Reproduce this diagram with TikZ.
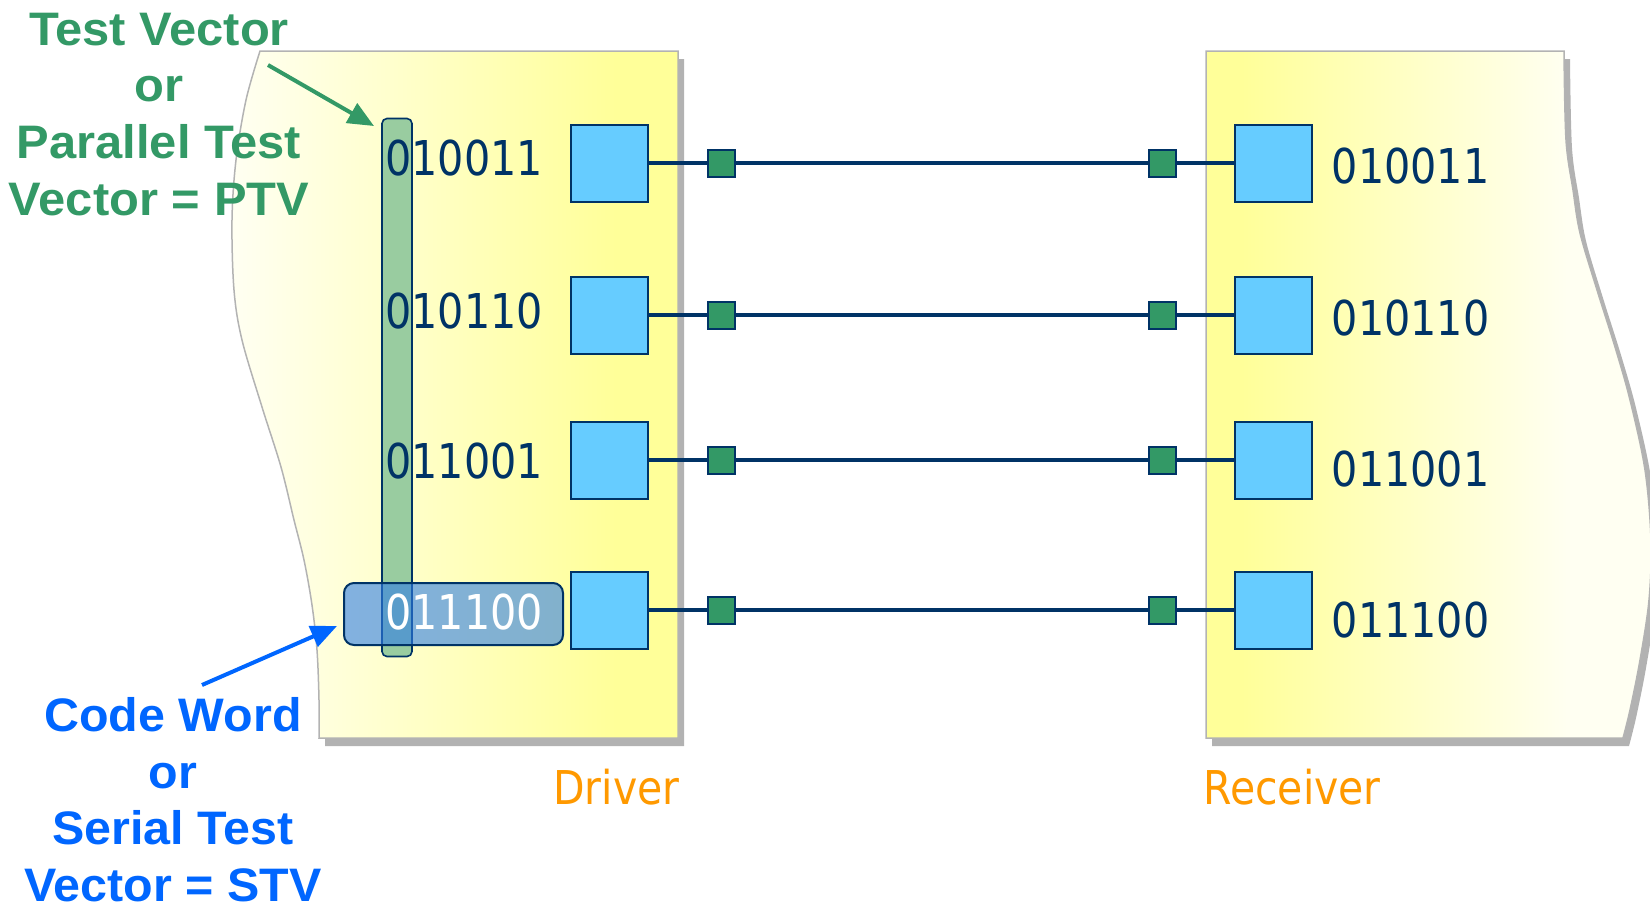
\documentclass[tikz,border=0pt]{standalone}
\usepackage{fontspec}
\usepackage{graphicx}
\usetikzlibrary{arrows.meta}

\newfontfamily\calloutfont{Liberation Sans}
\newfontfamily\bitfont{DejaVu Sans}

\definecolor{navy}{RGB}{0,51,102}
\definecolor{cellblue}{RGB}{102,204,255}
\definecolor{padgreen}{RGB}{51,153,102}
\definecolor{ptvfill}{RGB}{153,204,160}
\definecolor{stvfill}{RGB}{47,125,230}
\definecolor{calloutgreen}{RGB}{51,153,102}
\definecolor{calloutblue}{RGB}{0,102,255}
\definecolor{captionorange}{RGB}{255,153,0}
\definecolor{panelyellow}{RGB}{255,255,153}
\definecolor{panelpale}{RGB}{255,255,242}
\definecolor{panelrim}{RGB}{179,179,179}
\definecolor{panelshadow}{RGB}{178,178,178}

% panel fills: pale to yellow (driver), yellow to pale (receiver)
\pgfdeclarehorizontalshading{drivershade}{100bp}{color(0bp)=(panelpale); color(25bp)=(panelpale); color(68bp)=(panelyellow); color(100bp)=(panelyellow)}
\pgfdeclarehorizontalshading{receivershade}{100bp}{color(0bp)=(panelyellow); color(29bp)=(panelyellow); color(66bp)=(panelpale); color(100bp)=(panelpale)}

\newcommand\squeeze[2]{\scalebox{#1}[1]{#2}}

% outlines of the two torn-edge panels
\newcommand\driveroutline{(678,51) -- (678,738) -- plot[smooth,tension=0.55] coordinates {(319,738) (319,700) (317,650) (312,605) (304,560) (294,520) (281,467) (262,407) (242,340) (234,290) (232,220) (236,160) (246,100) (260,51)} -- cycle}
\newcommand\receiveroutline{(1206,738) -- (1206,51) -- plot[smooth,tension=0.55] coordinates {(1564,51) (1566,140) (1573,190) (1580,233) (1597,290) (1615,347) (1630,400) (1645,470) (1651,540) (1649,600) (1640,660) (1630,710) (1623,738)} -- cycle}

\tikzset{
  cell/.style={draw=navy, line width=1pt, fill=cellblue, minimum size=38.5pt, inner sep=0pt},
  pad/.style={draw=navy, line width=1pt, fill=padgreen, minimum size=13.5pt, inner sep=0pt},
  wire/.style={navy, line width=1.65pt},
  bits/.style={anchor=base west, inner sep=0pt, text=navy, font=\bitfont\fontsize{24pt}{28pt}\selectfont},
  caption/.style={anchor=base west, inner sep=0pt, text=captionorange, font=\bitfont\fontsize{23.3pt}{28pt}\selectfont},
  callout/.style={align=center, anchor=north, inner sep=0pt, font=\calloutfont\bfseries\fontsize{23.5pt}{28.35pt}\selectfont},
  pointer/.style={line width=2pt, -{Triangle[length=13pt,width=11pt]}},
  panel/.style={draw=panelrim, line width=0.75pt},
}

\begin{document}
\begin{tikzpicture}[x=0.5pt,y=-0.5pt]
\useasboundingbox (0,0) rectangle (1650,912);
\clip (0,0) rectangle (1650,912);

% panels with drop shadows
\fill[panelshadow, shift={(6,8)}] \driveroutline;
\fill[panelshadow, shift={(6,8)}] \receiveroutline;
\shadedraw[shading=drivershade, panel] \driveroutline;
\shadedraw[shading=receivershade, panel] \receiveroutline;

% driver and receiver cells with the pads between them
\foreach \i/\y in {1/163,2/315,3/460,4/610}{
  \node[cell] (d\i) at (609.5,\y) {};
  \node[cell] (r\i) at (1273.5,\y) {};
  \node[pad] (pa\i) at (721,\y) {};
  \node[pad] (pb\i) at (1162,\y) {};
  \draw[wire] (d\i) -- (pa\i) -- (pb\i) -- (r\i);
}

% parallel test vector column
\node[draw=navy, line width=0.8pt, fill=ptvfill, rounded corners=2.5pt,
      minimum width=15pt, minimum height=269pt, inner sep=0pt] (ptv) at (397,387.5) {};

% stored bits
\node[bits] (db1) at (385,175) {\squeeze{0.86}{010011}};
\node[bits] (db2) at (385,328) {\squeeze{0.86}{010110}};
\node[bits] (db3) at (385,478) {\squeeze{0.86}{011001}};
\node[bits] (rb1) at (1331.5,183) {\squeeze{0.86}{010011}};
\node[bits] (rb2) at (1331.5,335) {\squeeze{0.86}{010110}};
\node[bits] (rb3) at (1331.5,486) {\squeeze{0.86}{011001}};
\node[bits] (rb4) at (1331.5,637) {\squeeze{0.86}{011100}};

% serial test vector (code word) highlight
\node[draw=navy, line width=1pt, fill=stvfill, fill opacity=0.6, draw opacity=1,
      rounded corners=5pt, minimum width=109.5pt, minimum height=31pt, inner sep=0pt] (stv) at (453.5,614) {};
\node[bits, text=white] (db4) at (385,629) {\squeeze{0.86}{011100}};

% panel captions
\node[caption] (drvcap) at (553,804) {\squeeze{0.88}{Driver}};
\node[caption] (rcvcap) at (1203,804) {\squeeze{0.88}{Receiver}};

% callouts
\node[callout, text=calloutgreen] (ptvtext) at (159,12.4)
  {\squeeze{1.04}{Test Vector}\\\squeeze{1.04}{or}\\\squeeze{1.04}{Parallel Test}\\\squeeze{1.04}{Vector = PTV}};
\node[callout, text=calloutblue] (stvtext) at (173,697)
  {\squeeze{1.03}{Code Word}\\\squeeze{1.03}{or}\\\squeeze{1.03}{Serial Test}\\\squeeze{1.03}{Vector = STV}};

\coordinate (ptvtail) at (268,65);
\coordinate (ptvtip) at (374,126);
\coordinate (stvtail) at (202,685);
\coordinate (stvtip) at (337,626);
\draw[pointer, calloutgreen] (ptvtail) -- (ptvtip);
\draw[pointer, calloutblue] (stvtail) -- (stvtip);
\end{tikzpicture}
\end{document}
